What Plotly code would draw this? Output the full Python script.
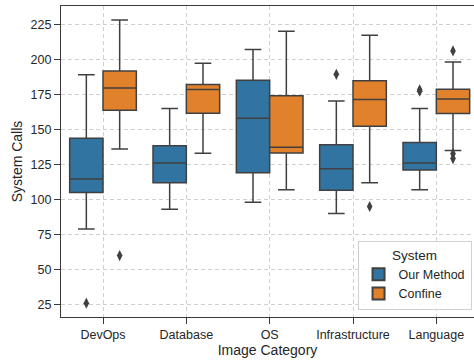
import plotly.graph_objects as go

categories = ["DevOps", "Database", "OS", "Infrastructure", "Language"]
series_names = ["Our Method", "Confine"]

# Our Method stats per category
ours_lower = [79, 93, 98, 90, 107]
ours_q1 = [105, 112, 119, 106.6, 121]
ours_median = [114.6, 126, 158, 122, 126]
ours_q3 = [143.7, 138.4, 185, 139, 140.6]
ours_upper = [189, 165, 207, 170.3, 165]
ours_outliers = [[26], [], [], [189.3], [177.3, 178.3]]

# Confine stats per category
conf_lower = [136, 133, 107, 112, 135]
conf_q1 = [163.6, 161.5, 133.2, 152.2, 161.3]
conf_median = [179.6, 178.4, 137.2, 171.3, 171.7]
conf_q3 = [191.7, 182, 174.1, 184.8, 178.6]
conf_upper = [228, 197.2, 220, 217.2, 198.1]
conf_outliers = [[60], [], [], [95], [206, 132.7, 129.2]]

colors = ["#3274a1", "#e1812c"]
edge = "#404040"
font_family = "Liberation Sans, Arial, sans-serif"

fig = go.Figure()

stats = [
    (ours_lower, ours_q1, ours_median, ours_q3, ours_upper, ours_outliers, -0.2),
    (conf_lower, conf_q1, conf_median, conf_q3, conf_upper, conf_outliers, 0.2),
]

for k, (lo, q1, med, q3, up, outs, off) in enumerate(stats):
    xs = [i + off for i in range(len(categories))]
    fig.add_trace(go.Box(
        x=xs, q1=q1, median=med, q3=q3, lowerfence=lo, upperfence=up,
        width=0.4, whiskerwidth=0.5,
        fillcolor=colors[k], line=dict(color=edge, width=1.5),
        boxpoints=False, showlegend=False, name=series_names[k],
    ))
    ox, oy = [], []
    for i, vals in enumerate(outs):
        for v in vals:
            ox.append(i + off)
            oy.append(v)
    fig.add_trace(go.Scatter(
        x=ox, y=oy, mode="markers", showlegend=False,
        marker=dict(symbol="diamond-tall", size=8, color=edge),
    ))
    fig.add_trace(go.Bar(
        x=[None], y=[None], name=series_names[k],
        marker=dict(color=colors[k], line=dict(color=edge, width=1.2)),
    ))

fig.update_layout(
    width=474, height=363,
    margin=dict(l=61, r=0, t=6, b=46),
    paper_bgcolor="white", plot_bgcolor="white",
    font=dict(family=font_family, size=12, color="#262626"),
    boxmode="overlay",
    showlegend=True,
    legend=dict(
        title=dict(text="System", side="top center", font=dict(size=13.5)),
        x=0.718, xanchor="left", y=0.022, yanchor="bottom",
        bgcolor="rgba(255,255,255,0.85)", bordercolor="#d0d0d0", borderwidth=1,
        font=dict(size=12.5), itemsizing="constant", itemwidth=30,
        tracegroupgap=0,
    ),
    xaxis=dict(
        range=[-0.504, 4.452],
        tickmode="array", tickvals=list(range(len(categories))), ticktext=categories,
        showline=True, linecolor="#3a3a3a", linewidth=1.3, mirror=True,
        ticks="outside", ticklen=6, tickcolor="#3a3a3a", tickwidth=1.2,
        showgrid=True, gridcolor="#d0d0d0", griddash="4px,3px", gridwidth=0.8,
        zeroline=False,
        title=dict(text="Image Category", font=dict(size=14), standoff=2),
        tickfont=dict(size=12.5),
    ),
    yaxis=dict(
        range=[16.15, 238.06],
        tickmode="array", tickvals=[25, 50, 75, 100, 125, 150, 175, 200, 225],
        showline=True, linecolor="#3a3a3a", linewidth=1.3, mirror=False,
        ticks="outside", ticklen=6, tickcolor="#3a3a3a", tickwidth=1.2,
        showgrid=True, gridcolor="#d0d0d0", griddash="4px,3px", gridwidth=0.8,
        zeroline=False,
        title=dict(text="System Calls", font=dict(size=14), standoff=4),
        tickfont=dict(size=12.5),
    ),
)

fig.write_html(
    "out.html",
    config={"displayModeBar": False},
    post_script="document.body.style.margin='0';document.body.style.overflow='hidden';",
)
